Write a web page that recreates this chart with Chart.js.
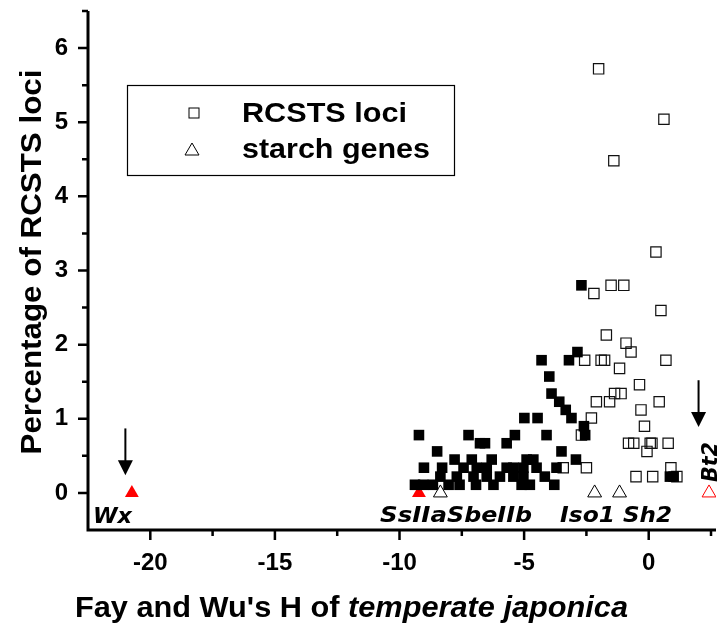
<!DOCTYPE html>
<html>
<head>
<meta charset="utf-8">
<script src="https://cdn.jsdelivr.net/npm/chart.js@4.4.0/dist/chart.umd.min.js"></script>
<style>
  html, body { margin: 0; padding: 0; background: #fff; }
  #wrap { width: 725px; height: 625px; }
</style>
</head>
<body>
<div id="wrap"><canvas id="myChart"></canvas></div>
<script>
// RCSTS loci, filled squares
const filledH = [-9.38, -9.05, -8.66, -8.03, -7.59, -6.93, -6.23, -5.10, -4.77, -3.79,
  -8.36, -7.70, -7.03, -6.50, -5.97, -5.43, -5.03, -4.17, 0.85, 1.00,
  -9.02, -8.29, -7.43, -6.90, -6.50, -5.70, -5.43, -5.03, -4.50, -3.70,
  -7.79, -7.10, -6.30, -4.90, -4.63, -2.92,
  -8.49, -3.50,
  -6.77, -6.57, -5.70,
  -9.22, -7.23, -5.37, -4.10, -2.55,
  -2.60,
  -4.99, -4.46, -3.10,
  -3.33, -3.59, -3.90, -3.99,
  -4.30, -3.20, -2.86, -2.70];
const filledPct = [0.11, 0.11, 0.11, 0.11, 0.11, 0.11, 0.11, 0.11, 0.11, 0.11,
  0.22, 0.22, 0.22, 0.22, 0.22, 0.22, 0.22, 0.22, 0.22, 0.22,
  0.34, 0.34, 0.34, 0.34, 0.34, 0.34, 0.34, 0.34, 0.34, 0.34,
  0.45, 0.45, 0.45, 0.45, 0.45, 0.45,
  0.56, 0.56,
  0.67, 0.67, 0.67,
  0.78, 0.78, 0.78, 0.78, 0.78,
  0.90,
  1.01, 1.01, 1.01,
  1.12, 1.23, 1.34, 1.57,
  1.79, 1.79, 1.90, 2.80];

// RCSTS loci, open squares
const openH = [-2.01, 0.61, -1.40, 0.29, -2.20, -1.51, -1.00, 0.49, -1.70, -0.91,
  -0.71, -2.57, -1.91, -1.77, 0.69, -1.17, -0.37, -1.37, -1.11, -2.10,
  -1.57, 0.42, -0.31, -2.30, -0.17, -2.70, -0.81, -0.60, 0.06, 0.13,
  0.78, -0.07, -3.43, -2.50, 0.89, -0.51, 0.16, 1.13];
const openPct = [5.72, 5.04, 4.48, 3.25, 2.69, 2.80, 2.80, 2.46, 2.13, 2.02,
  1.90, 1.79, 1.79, 1.79, 1.79, 1.68, 1.46, 1.34, 1.34, 1.23,
  1.23, 1.23, 1.12, 1.01, 0.90, 0.78, 0.67, 0.67, 0.67, 0.67,
  0.67, 0.56, 0.34, 0.34, 0.34, 0.22, 0.22, 0.22];

// starch genes
const geneNames = ['Wx', 'SsIIa', 'SbeIIb', 'Iso1', 'Sh2', 'Bt2'];
const geneH = [-20.74, -9.22, -8.36, -2.17, -1.17, 2.42];
const genePct = [0, 0, 0, 0, 0, 0];

// arrows pointing at Wx and Bt2 (data units)
const arrowGenes = ['Wx', 'Bt2'];
const arrowH = [-21.0, 2.0];
const arrowFrom = [0.87, 1.52];
const arrowTo = [0.24, 0.89];

const xTicks = [-20, -15, -10, -5, 0];
const yTicks = [0, 1, 2, 3, 4, 5, 6];

const legendLabels = ['RCSTS loci', 'starch genes'];

// marker kind for each gene
const geneStyle = { Wx: 'red', SsIIa: 'red', SbeIIb: 'open', Iso1: 'open', Sh2: 'open', Bt2: 'redOpen' };

function pts(xs, ys) { return xs.map((v, i) => ({ x: v, y: ys[i] })); }
function genePts(kind) {
  return geneNames.map((n, i) => ({ x: geneH[i], y: genePct[i], n }))
    .filter(p => geneStyle[p.n] === kind);
}

const FONT = '"Liberation Sans", Arial, sans-serif';
const IFONT = '"DejaVu Sans", Verdana, sans-serif';

function fitText(ctx, text, x, y, width, font, align) {
  ctx.save();
  ctx.font = font;
  const w = ctx.measureText(text).width;
  ctx.translate(x, y);
  ctx.scale(width / w, 1);
  ctx.textAlign = align || 'center';
  ctx.textBaseline = 'alphabetic';
  ctx.fillText(text, 0, 0);
  ctx.restore();
}

const overlay = {
  id: 'overlay',
  afterDraw(chart) {
    const { ctx, chartArea: a, scales: { x, y } } = chart;
    ctx.save();
    ctx.strokeStyle = '#000';
    ctx.fillStyle = '#000';

    // axis lines
    ctx.lineWidth = 3;
    ctx.beginPath();
    ctx.moveTo(a.left, a.top);
    ctx.lineTo(a.left, a.bottom);
    ctx.lineTo(a.right, a.bottom);
    ctx.stroke();

    // major + minor ticks
    ctx.lineWidth = 2.5;
    ctx.beginPath();
    xTicks.forEach(v => {
      const px = x.getPixelForValue(v);
      ctx.moveTo(px, a.bottom); ctx.lineTo(px, a.bottom + 10);
      const m = x.getPixelForValue(v + 2.5);
      if (m <= a.right) { ctx.moveTo(m, a.bottom); ctx.lineTo(m, a.bottom + 6); }
    });
    const m0 = x.getPixelForValue(xTicks[0] - 2.5);
    if (m0 > a.left + 3) { ctx.moveTo(m0, a.bottom); ctx.lineTo(m0, a.bottom + 6); }
    yTicks.forEach(v => {
      const py = y.getPixelForValue(v);
      ctx.moveTo(a.left, py); ctx.lineTo(a.left - 10, py);
      const m = y.getPixelForValue(v + 0.5);
      if (m >= a.top) { ctx.moveTo(a.left, m); ctx.lineTo(a.left - 6, m); }
    });
    ctx.stroke();

    // x title: mixed upright / italic
    ctx.font = 'bold 29px ' + FONT;
    const p1 = "Fay and Wu's H of ";
    const p2 = 'temperate japonica';
    const w1 = ctx.measureText(p1).width;
    ctx.font = 'italic bold 29px ' + FONT;
    const w2 = ctx.measureText(p2).width;
    const sx = 553 / (w1 + w2);
    ctx.save();
    ctx.translate(75, 617);
    ctx.scale(sx, 1);
    ctx.textAlign = 'left';
    ctx.textBaseline = 'alphabetic';
    ctx.font = 'bold 29px ' + FONT;
    ctx.fillText(p1, 0, 0);
    ctx.font = 'italic bold 29px ' + FONT;
    ctx.fillText(p2, w1, 0);
    ctx.restore();

    // y title
    ctx.save();
    ctx.translate(41, 262);
    ctx.rotate(-Math.PI / 2);
    fitText(ctx, 'Percentage of RCSTS loci', 0, 0, 385, 'bold 30px ' + FONT);
    ctx.restore();

    // legend box
    ctx.lineWidth = 1.2;
    ctx.strokeRect(127.5, 85.5, 327, 90);
    ctx.lineWidth = 1;
    ctx.strokeRect(189, 108, 10, 10);
    ctx.beginPath();
    ctx.moveTo(192, 143); ctx.lineTo(199, 155); ctx.lineTo(185, 155); ctx.closePath();
    ctx.stroke();
    fitText(ctx, legendLabels[0], 242, 122, 165, 'bold 28px ' + FONT, 'left');
    fitText(ctx, legendLabels[1], 242, 158, 188, 'bold 28px ' + FONT, 'left');

    // arrows
    arrowGenes.forEach((g, i) => {
      const px = x.getPixelForValue(arrowH[i]);
      const pTop = y.getPixelForValue(arrowFrom[i]);
      const pTip = y.getPixelForValue(arrowTo[i]);
      ctx.lineWidth = 2;
      ctx.beginPath();
      ctx.moveTo(px, pTop); ctx.lineTo(px, pTip - 12);
      ctx.stroke();
      ctx.beginPath();
      ctx.moveTo(px - 7.5, pTip - 15); ctx.lineTo(px + 7.5, pTip - 15); ctx.lineTo(px, pTip);
      ctx.closePath();
      ctx.fill();
    });

    // gene labels
    const lf = 'italic bold 21px ' + IFONT;
    const labelPos = {
      Wx: [112.5, 523, 39], SsIIa: [413.5, 522, 67], SbeIIb: [489.5, 522, 85],
      Iso1: [587.5, 522, 55], Sh2: [647.5, 522, 49]
    };
    geneNames.forEach(n => {
      const p = labelPos[n];
      if (p) fitText(ctx, n, p[0], p[1], p[2], lf);
    });
    ctx.save();
    ctx.translate(717, 462);
    ctx.rotate(-Math.PI / 2);
    fitText(ctx, 'Bt2', 0, 0, 40, lf);
    ctx.restore();

    ctx.restore();
  }
};

new Chart(document.getElementById('myChart').getContext('2d'), {
  type: 'scatter',
  data: {
    datasets: [
      { label: 'RCSTS loci (filled)', data: pts(filledH, filledPct), pointStyle: 'rect', radius: 7.5,
        backgroundColor: '#000', borderColor: '#000', borderWidth: 0 },
      { label: 'RCSTS loci', data: pts(openH, openPct), pointStyle: 'rect', radius: 7.3,
        backgroundColor: 'rgba(0,0,0,0)', borderColor: '#111', borderWidth: 1.2 },
      { label: 'starch genes', data: genePts('open'), pointStyle: 'triangle', radius: 8,
        backgroundColor: 'rgba(0,0,0,0)', borderColor: '#000', borderWidth: 1 },
      { label: 'starch genes (red)', data: genePts('red'), pointStyle: 'triangle', radius: 8,
        backgroundColor: '#ff0000', borderColor: '#ff0000', borderWidth: 0 },
      { label: 'starch genes (red open)', data: genePts('redOpen'), pointStyle: 'triangle', radius: 8,
        backgroundColor: 'rgba(0,0,0,0)', borderColor: '#ff0000', borderWidth: 1 }
    ]
  },
  options: {
    responsive: true,
    maintainAspectRatio: false,
    animation: false,
    layout: { padding: { left: 0, right: 5, top: 11, bottom: 0 } },
    plugins: { legend: { display: false }, tooltip: { enabled: false } },
    scales: {
      x: {
        type: 'linear', min: -22.5, max: 2.7,
        afterFit(s) { s.height = 95; s.paddingLeft = 0; s.paddingRight = 0; },
        afterBuildTicks(s) { s.ticks = xTicks.map(v => ({ value: v })); },
        grid: { display: false, drawTicks: true, tickLength: 10 },
        border: { display: false },
        ticks: { color: '#000', padding: 9, font: { family: FONT, size: 24, weight: 'bold' } }
      },
      y: {
        type: 'linear', min: -0.5, max: 6.5,
        afterFit(s) { s.width = 88; s.paddingTop = 0; s.paddingBottom = 0; },
        afterBuildTicks(s) { s.ticks = yTicks.map(v => ({ value: v })); },
        grid: { display: false, drawTicks: true, tickLength: 10 },
        border: { display: false },
        ticks: { color: '#000', padding: 10, font: { family: FONT, size: 24, weight: 'bold' } }
      }
    }
  },
  plugins: [overlay]
});
</script>
</body>
</html>
